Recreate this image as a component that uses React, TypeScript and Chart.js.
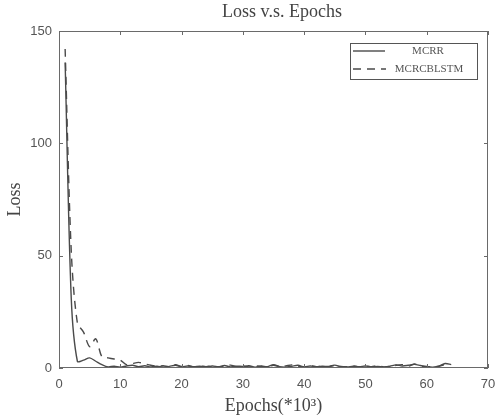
import React, { useEffect, useRef } from "react";
import { Chart, registerables } from "chart.js";

Chart.register(...registerables);

const epochs: number[] = [
  1, 2, 3, 4, 5, 6, 7, 8, 9, 10, 11, 12, 13, 14, 15, 16, 17, 18, 19, 20, 21, 22, 23, 24, 25, 26, 27, 28, 29, 30, 31, 32,
  33, 34, 35, 36, 37, 38, 39, 40, 41, 42, 43, 44, 45, 46, 47, 48, 49, 50, 51, 52, 53, 54, 55, 56, 57, 58, 59, 60, 61, 62,
  63, 64,
];

const mcrr: number[] = [
  136, 31, 3, 3.5, 4.5, 3, 1.5, 0.5, 0.8, 0.4, 0.9, 1.2, 0.6, 1, 0.5, 0.8, 0.4, 0.7, 1.2, 0.5, 0.9, 0.6, 0.8, 0.4, 0.9,
  0.6, 1.1, 0.5, 0.8, 0.7, 1, 0.4, 0.9, 0.6, 1.5, 0.6, 0.4, 0.8, 1.2, 0.5, 0.9, 0.6, 0.8, 0.7, 1.3, 0.5, 0.4, 0.8, 0.6,
  0.9, 0.5, 0.7, 0.4, 0.8, 1.4, 0.9, 1.2, 1.6, 1.1, 0.6, 0.4, 0.8, 2, 1.5,
];

const mcrcblstm: number[] = [
  142, 52, 20, 16, 9.5, 13, 5, 4.5, 4, 3.5, 1.5, 2, 2.5, 1.8, 1.2, 0.8, 1, 0.6, 1.5, 0.7, 1.1, 0.5, 0.9, 0.6, 1, 0.4,
  0.8, 1.3, 0.6, 0.9, 0.5, 1, 0.7, 0.5, 1.2, 0.6, 0.9, 1.4, 0.7, 0.5, 1, 0.6, 0.8, 0.5, 1.2, 0.7, 0.6, 0.9, 0.4, 0.8,
  0.6, 1, 0.5, 0.7, 1.2, 1.5, 0.8, 1.8, 0.9, 0.7, 0.5, 0.8, 1.6,
];

const xTicks: number[] = [0, 10, 20, 30, 40, 50, 60, 70];
const yTicks: number[] = [0, 50, 100, 150];

const titleText = "Loss v.s. Epochs";
const xLabel = "Epochs(*10³)";
const yLabel = "Loss";
const seriesNames: string[] = ["MCRR", "MCRCBLSTM"];

const AXIS = "#6a6a6a";
const LINE = "#4a4a4a";

const framePlugin = {
  id: "matlabFrame",
  afterDatasetsDraw(chart: any) {
    const { ctx, chartArea } = chart;
    const { left, right, top, bottom } = chartArea;
    const xs = chart.scales.x;
    const ys = chart.scales.y;
    ctx.save();
    ctx.strokeStyle = AXIS;
    ctx.lineWidth = 1;
    ctx.strokeRect(left + 0.5, top + 0.5, right - left - 1, bottom - top - 1);
    const tl = 4;
    ctx.beginPath();
    xTicks.forEach((v) => {
      const px = Math.round(xs.getPixelForValue(v)) + 0.5;
      ctx.moveTo(px, bottom);
      ctx.lineTo(px, bottom - tl);
      ctx.moveTo(px, top);
      ctx.lineTo(px, top + tl);
    });
    yTicks.forEach((v) => {
      const py = Math.round(ys.getPixelForValue(v)) + 0.5;
      ctx.moveTo(left, py);
      ctx.lineTo(left + tl, py);
      ctx.moveTo(right, py);
      ctx.lineTo(right - tl, py);
    });
    ctx.stroke();

    // title
    ctx.fillStyle = "#444";
    ctx.font = "18px 'Liberation Serif', serif";
    ctx.textAlign = "center";
    ctx.textBaseline = "middle";
    ctx.fillText(titleText, 282, 12);

    // legend
    const bx = 350, by = 43, bw = 127, bh = 36;
    ctx.fillStyle = "#fff";
    ctx.fillRect(bx, by, bw, bh);
    ctx.strokeStyle = "#555";
    ctx.lineWidth = 1;
    ctx.strokeRect(bx + 0.5, by + 0.5, bw, bh);
    ctx.strokeStyle = LINE;
    ctx.lineWidth = 1.4;
    ctx.beginPath();
    ctx.moveTo(353, 51);
    ctx.lineTo(385, 51);
    ctx.stroke();
    ctx.setLineDash([8, 6]);
    ctx.beginPath();
    ctx.moveTo(353, 69);
    ctx.lineTo(386, 69);
    ctx.stroke();
    ctx.setLineDash([]);
    ctx.fillStyle = "#555";
    ctx.font = "11px 'Liberation Serif', serif";
    ctx.textAlign = "center";
    ctx.fillText(seriesNames[0], 428, 51);
    ctx.fillText(seriesNames[1], 429, 69);
    ctx.restore();
  },
};

export default function App() {
  const ref = useRef<HTMLCanvasElement | null>(null);
  useEffect(() => {
    if (!ref.current) return;
    const chart = new Chart(ref.current, {
      type: "line",
      data: {
        labels: epochs,
        datasets: [
          {
            label: seriesNames[0],
            data: epochs.map((x, i) => ({ x, y: mcrr[i] })),
            borderColor: LINE,
            borderWidth: 1.4,
            pointRadius: 0,
            tension: 0.3,
          },
          {
            label: seriesNames[1],
            data: mcrcblstm.map((y, i) => ({ x: epochs[i], y })),
            borderColor: LINE,
            borderWidth: 1.4,
            borderDash: [8, 6],
            pointRadius: 0,
            tension: 0.3,
          },
        ],
      },
      options: {
        responsive: false,
        animation: false,
        layout: { padding: { top: 31, right: 0, left: 0, bottom: 0 } },
        plugins: {
          legend: { display: false },
          tooltip: { enabled: false },
          title: { display: false },
        },
        scales: {
          x: {
            type: "linear",
            min: 0,
            max: 70,
            afterBuildTicks: (s: any) => {
              s.ticks = xTicks.map((v) => ({ value: v }));
            },
            afterFit: (s: any) => {
              s.height = 49;
              s.paddingRight = 8;
            },
            grid: { display: false, drawTicks: false },
            border: { display: false },
            ticks: {
              color: "#555",
              font: { family: "'Liberation Sans', Arial, sans-serif", size: 13 },
              padding: 9,
              maxRotation: 0,
            },
            title: {
              display: true,
              text: xLabel,
              color: "#444",
              font: { family: "'Liberation Serif', serif", size: 18 },
              padding: { top: 0, bottom: 0 },
            },
          },
          y: {
            type: "linear",
            min: 0,
            max: 150,
            afterBuildTicks: (s: any) => {
              s.ticks = yTicks.map((v) => ({ value: v }));
            },
            afterFit: (s: any) => {
              s.width = 59;
            },
            grid: { display: false, drawTicks: false },
            border: { display: false },
            ticks: {
              color: "#555",
              font: { family: "'Liberation Sans', Arial, sans-serif", size: 13 },
              padding: 7,
            },
            title: {
              display: true,
              text: yLabel,
              color: "#444",
              font: { family: "'Liberation Serif', serif", size: 18 },
              padding: { top: 4, bottom: 0 },
            },
          },
        },
      } as any,
      plugins: [framePlugin],
    });
    return () => chart.destroy();
  }, []);
  return (
    <div style={{ position: "fixed", left: 0, top: 0, width: 496, height: 417, background: "#fff" }}>
      <canvas ref={ref} width={496} height={417} style={{ width: 496, height: 417 }} />
    </div>
  );
}
